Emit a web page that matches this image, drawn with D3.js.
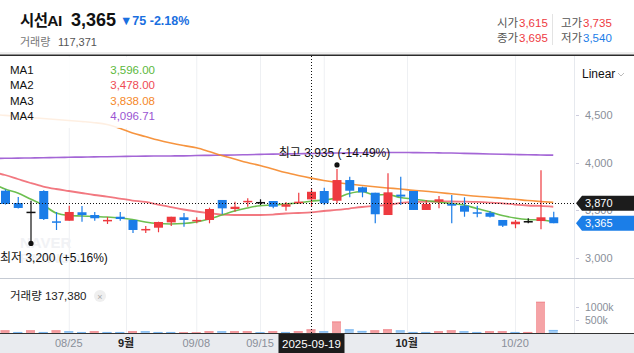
<!DOCTYPE html>
<html>
<head>
<meta charset="utf-8">
<script src="https://cdn.jsdelivr.net/npm/d3@7"></script>
<style>
  body { margin: 0; background: #fff; }
  svg { display: block; font-family: "Liberation Sans", "Noto Sans CJK KR", sans-serif; }
</style>
</head>
<body>
<svg width="634" height="353"></svg>
<script>
// first entry is the off-screen lead-in day, the rest are the visible candles
const dates = ['2025-08-14',
  '2025-08-18', '2025-08-19', '2025-08-20', '2025-08-21', '2025-08-22',
  '2025-08-25', '2025-08-26', '2025-08-27', '2025-08-28', '2025-08-29',
  '2025-09-01', '2025-09-02', '2025-09-03', '2025-09-04', '2025-09-05',
  '2025-09-08', '2025-09-09', '2025-09-10', '2025-09-11', '2025-09-12',
  '2025-09-15', '2025-09-16', '2025-09-17', '2025-09-18', '2025-09-19',
  '2025-09-22', '2025-09-23', '2025-09-24', '2025-09-25', '2025-09-26',
  '2025-09-29', '2025-09-30', '2025-10-01', '2025-10-02', '2025-10-10',
  '2025-10-13', '2025-10-14', '2025-10-15', '2025-10-16', '2025-10-17',
  '2025-10-20', '2025-10-21', '2025-10-22', '2025-10-23']

const open = [3740, 3706, 3577, 3486, 3703, 3385, 3391, 3480, 3451, 3395, 3433, 3399, 3300, 3318, 3374,
  3427, 3395, 3399, 3609, 3514, 3595, 3588, 3598, 3538, 3574, 3615, 3703, 3601, 3818, 3742,
  3685, 3451, 3665, 3703, 3504, 3591, 3567, 3549, 3480, 3475, 3399, 3354, 3388, 3388, 3427]
const high = [3780, 3720, 3640, 3600, 3710, 3483, 3549, 3546, 3483, 3430, 3483, 3399, 3336, 3381, 3433,
  3472, 3427, 3528, 3609, 3591, 3626, 3616, 3598, 3588, 3685, 3735, 3738, 3935, 3853, 3748,
  3685, 3889, 3853, 3703, 3609, 3651, 3661, 3637, 3549, 3493, 3399, 3399, 3417, 3920, 3486]
const low = [3690, 3560, 3520, 3200, 3400, 3294, 3391, 3381, 3391, 3357, 3391, 3262, 3262, 3270, 3336,
  3328, 3364, 3364, 3462, 3486, 3538, 3556, 3521, 3496, 3574, 3540, 3556, 3574, 3637, 3637,
  3364, 3451, 3556, 3504, 3504, 3521, 3364, 3433, 3427, 3425, 3325, 3312, 3364, 3301, 3365]
const close = [3720, 3567, 3525, 3486, 3409, 3378, 3483, 3451, 3417, 3400, 3409, 3294, 3305, 3378, 3433,
  3399, 3400, 3514, 3521, 3538, 3600, 3588, 3538, 3563, 3591, 3695, 3574, 3818, 3706, 3689,
  3459, 3689, 3645, 3504, 3567, 3616, 3549, 3486, 3475, 3433, 3339, 3381, 3388, 3427, 3365]

const volume = [90000, 100000, 40000, 100000, 40000, 100000, 65000, 40000, 65000, 40000, 40000, 65000, 65000, 40000, 40000,
  25000, 25000, 65000, 65000, 65000, 65000, 30000, 65000, 40000, 65000, 137380, 65000, 440000, 140000, 80000,
  100000, 140000, 100000, 40000, 40000, 65000, 100000, 65000, 40000, 65000, 65000, 40000, 40000, 1200000, 117371]
const volDir = ['d', 'u', 'd', 'u', 'd', 'u', 'd', 'd', 'u', 'd', 'd', 'u', 'd', 'd', 'd', 'u', 'u', 'u', 'd', 'u', 'u',
  'd', 'u', 'd', 'u', 'u', 'd', 'u', 'd', 'd', 'u', 'u', 'd', 'd', 'd', 'u', 'u', 'd', 'd', 'u', 'u', 'd', 'u', 'u', 'd']

const ma1 = [3787, 3724, 3682, 3619, 3556, 3472, 3446, 3441, 3435, 3430, 3420, 3404, 3378, 3362, 3357,
  3362, 3378, 3409, 3451, 3493, 3525, 3549, 3556, 3567, 3577, 3596, 3609, 3630, 3677, 3698,
  3661, 3666, 3635, 3619, 3601, 3588, 3572, 3556, 3519, 3486, 3446, 3420, 3404, 3399, 3381]
const ma2 = [3902, 3871, 3829, 3787, 3750, 3724, 3703, 3682, 3661, 3645, 3624, 3603, 3588, 3561, 3535,
  3509, 3488, 3472, 3456, 3451, 3451, 3451, 3456, 3467, 3472, 3478, 3493, 3504, 3519, 3535,
  3546, 3556, 3577, 3588, 3591, 3593, 3593, 3591, 3588, 3582, 3574, 3561, 3551, 3546, 3538]
const ma3 = [4506, 4497, 4485, 4474, 4464, 4453, 4443, 4432, 4420, 4401, 4361, 4312, 4275, 4238, 4207,
  4180, 4156, 4118, 4076, 4039, 4002, 3971, 3934, 3897, 3866, 3838, 3813, 3792, 3776, 3761,
  3747, 3735, 3724, 3711, 3701, 3687, 3674, 3661, 3648, 3638, 3627, 3616, 3603, 3593, 3584]
const ma4 = [4044, 4046, 4048, 4050, 4052, 4055, 4057, 4059, 4061, 4063, 4065, 4067, 4069, 4070, 4071,
  4072, 4075, 4077, 4079, 4081, 4084, 4087, 4090, 4092, 4094, 4097, 4099, 4101, 4103, 4105,
  4106, 4107, 4107, 4106, 4105, 4103, 4101, 4098, 4095, 4092, 4089, 4086, 4083, 4081, 4079]

const maNames = ['MA1', 'MA2', 'MA3', 'MA4']
const maLegend = ['3,596.00', '3,478.00', '3,838.08', '4,096.71']
const maColors = ['#5cb83c', '#ee4b55', '#f5882a', '#9a55d2']

const priceTicks = [4500, 4000, 3500, 3000]
const volTicks = [1000000, 500000]
// 09/22 sits under the crosshair date tag, so only its grid line shows
const xTicks = [
  { date: '2025-08-25', label: '08/25' },
  { date: '2025-09-08', label: '09/08' },
  { date: '2025-09-15', label: '09/15' },
  { date: '2025-09-22', label: null },
  { date: '2025-10-20', label: '10/20' }
]
const monthTicks = [
  { before: '2025-08-29', after: '2025-09-01', label: '9월' },
  { before: '2025-09-30', after: '2025-10-01', label: '10월' }
]

const crossDate = '2025-09-19'
const crossPrice = 3575
const crossLabel = '3,870'
const lastLabel = '3,365'

const red = '#ee3a3f'
const blue = '#1b7de8'

const svg = d3.select('svg')
const width = +svg.attr('width')
const height = +svg.attr('height')

const plot = { left: 0, right: 574, top: 56, bottom: 278 }
const volPane = { top: 278, bottom: 333 }

const x = d3.scalePoint()
  .domain(dates)
  .range([-14.125, 559.625])
  .padding(0.5)

const y = d3.scaleLinear()
  .domain([3000, 4500])
  .range([258, 115.05])

const yVol = d3.scaleLinear()
  .domain([0, 1000000])
  .range([volPane.bottom, volPane.bottom - 26])

const bodyW = 9

svg.append('defs').append('clipPath').attr('id', 'clip')
  .append('rect')
  .attr('x', plot.left).attr('y', plot.top)
  .attr('width', plot.right - plot.left).attr('height', volPane.bottom - plot.top)

// ---- header
const head = svg.append('g')
head.append('text').attr('x', 20).attr('y', 26)
  .attr('font-size', 15.5).attr('font-weight', 'bold').attr('fill', '#111')
  .attr('letter-spacing', -0.6)
  .text('시선AI')
head.append('text').attr('x', 71).attr('y', 26)
  .attr('font-size', 18).attr('font-weight', 'bold').attr('fill', '#111')
  .text('3,365')
head.append('text').attr('x', 120).attr('y', 25)
  .attr('font-size', 12.5).attr('font-weight', 'bold').attr('fill', '#1a6fe0')
  .text('▼75 -2.18%')
head.append('text').attr('x', 20).attr('y', 46)
  .attr('font-size', 11).attr('fill', '#777')
  .text('거래량')
head.append('text').attr('x', 58).attr('y', 46)
  .attr('font-size', 11).attr('fill', '#555')
  .text('117,371')

const quotes = [
  { label: '시가', value: '3,615', color: red, x: 497, y: 27 },
  { label: '고가', value: '3,735', color: red, x: 561, y: 27 },
  { label: '종가', value: '3,695', color: red, x: 497, y: 42 },
  { label: '저가', value: '3,540', color: blue, x: 561, y: 42 }
]
quotes.forEach(q => {
  head.append('text').attr('x', q.x).attr('y', q.y)
    .attr('font-size', 11.5).attr('fill', '#555').text(q.label)
  head.append('text').attr('x', q.x + 22).attr('y', q.y)
    .attr('font-size', 11.5).attr('fill', q.color).text(q.value)
})
head.append('line')
  .attr('x1', 552.5).attr('x2', 552.5).attr('y1', 14).attr('y2', 45)
  .attr('stroke', '#e3e3e3')

svg.append('rect').attr('x', 0).attr('y', 52).attr('width', width).attr('height', 2.5).attr('fill', '#eeeeee')
svg.append('rect').attr('x', 0).attr('y', 54.5).attr('width', width).attr('height', 1.5).attr('fill', '#2b2b2b')

// ---- grid
const grid = svg.append('g')
xTicks.forEach(t => {
  grid.append('line')
    .attr('x1', x(t.date) + 0.5).attr('x2', x(t.date) + 0.5)
    .attr('y1', plot.top).attr('y2', volPane.bottom)
    .attr('stroke', '#eef0f3')
})
monthTicks.forEach(t => {
  const mx = Math.round((x(t.before) + x(t.after)) / 2) + 0.5
  grid.append('line')
    .attr('x1', mx).attr('x2', mx)
    .attr('y1', plot.top).attr('y2', volPane.bottom)
    .attr('stroke', '#eef0f3')
})
grid.append('line')
  .attr('x1', plot.right + 0.5).attr('x2', plot.right + 0.5)
  .attr('y1', plot.top).attr('y2', volPane.bottom)
  .attr('stroke', '#e6e9ee')
grid.append('line')
  .attr('x1', 0).attr('x2', width)
  .attr('y1', volPane.top + 0.5).attr('y2', volPane.top + 0.5)
  .attr('stroke', '#c5cad3')

// watermark
svg.append('text').attr('x', 20).attr('y', 248)
  .attr('font-size', 15).attr('font-weight', 'bold').attr('fill', '#f1f2f5')
  .text('NAVER')
svg.append('text').attr('x', 20).attr('y', 263)
  .attr('font-size', 13).attr('font-weight', 'bold').attr('fill', '#f1f2f5')
  .text('FINANCIAL')

const chart = svg.append('g').attr('clip-path', 'url(#clip)')

// ---- volume
chart.selectAll('.vol').data(dates)
  .enter().append('rect')
  .attr('class', 'vol')
  .attr('x', d => x(d) - bodyW / 2)
  .attr('width', bodyW)
  .attr('y', (d, i) => yVol(volume[i]))
  .attr('height', (d, i) => volPane.bottom - yVol(volume[i]))
  .attr('fill', (d, i) => volDir[i] === 'u' ? '#f5a3a6' : '#a3cdf5')
chart.selectAll('.volTop').data(dates)
  .enter().append('rect')
  .attr('x', d => x(d) - bodyW / 2)
  .attr('width', bodyW)
  .attr('y', (d, i) => yVol(volume[i]))
  .attr('height', 1)
  .attr('fill', (d, i) => volDir[i] === 'u' ? '#f08a8f' : '#7db8f0')

// ---- moving averages
const maLine = d3.line()
  .x((d, i) => x(dates[i]))
  .y(d => y(d))
  .curve(d3.curveMonotoneX);

[ma4, ma3, ma2, ma1].forEach((series, k) => {
  const idx = 3 - k
  chart.append('path')
    .datum(series)
    .attr('d', maLine)
    .attr('fill', 'none')
    .attr('stroke', maColors[idx])
    .attr('stroke-width', idx === 1 ? 1.8 : 1.6)
    .attr('stroke-opacity', idx === 1 ? 0.75 : 0.9)
})

// ---- candles
const cg = chart.selectAll('.candle').data(dates)
  .enter().append('g')
  .attr('class', 'candle')
const candleColor = i => close[i] > open[i] ? red : close[i] < open[i] ? blue : '#111'

cg.append('line')
  .attr('x1', d => x(d) + 0.5).attr('x2', d => x(d) + 0.5)
  .attr('y1', (d, i) => y(high[i]))
  .attr('y2', (d, i) => y(low[i]))
  .attr('stroke', (d, i) => candleColor(i))
  .attr('stroke-width', 1.2)
cg.append('rect')
  .attr('x', d => x(d) - bodyW / 2 + 0.5)
  .attr('width', bodyW)
  .attr('y', (d, i) => y(Math.max(open[i], close[i])))
  .attr('height', (d, i) => Math.max(1.5, Math.abs(y(open[i]) - y(close[i]))))
  .attr('fill', (d, i) => candleColor(i))

// ---- high / low markers
const hiIdx = d3.maxIndex(high.slice(1)) + 1
const loIdx = d3.minIndex(low.slice(1)) + 1
const lastClose = close[close.length - 1]
const fmt = d3.format(',')
const pct = v => (v >= 0 ? '+' : '') + (v * 100).toFixed(2) + '%'

chart.append('circle')
  .attr('cx', x(dates[hiIdx]) + 0.5).attr('cy', y(high[hiIdx]) - 4)
  .attr('r', 2.6).attr('fill', '#111')
svg.append('text')
  .attr('x', x(dates[hiIdx]) - 2).attr('y', y(high[hiIdx]) - 12)
  .attr('text-anchor', 'middle')
  .attr('font-size', 12).attr('fill', '#111')
  .text(`최고 ${fmt(high[hiIdx])} (${pct(lastClose / high[hiIdx] - 1)})`)

chart.append('line')
  .attr('x1', x(dates[loIdx]) + 0.5).attr('x2', x(dates[loIdx]) + 0.5)
  .attr('y1', y(low[loIdx])).attr('y2', y(low[loIdx]) + 4)
  .attr('stroke', '#111').attr('stroke-width', 1.2)
chart.append('circle')
  .attr('cx', x(dates[loIdx]) + 0.5).attr('cy', y(low[loIdx]) + 4.5)
  .attr('r', 2.6).attr('fill', '#111')
svg.append('text')
  .attr('x', 0).attr('y', y(low[loIdx]) + 23)
  .attr('font-size', 12).attr('fill', '#111')
  .text(`최저 ${fmt(low[loIdx])} (${pct(lastClose / low[loIdx] - 1)})`)

// ---- legend
const legend = svg.append('g')
legend.append('rect')
  .attr('x', 0).attr('y', 57).attr('width', 168).attr('height', 71)
  .attr('fill', '#fff').attr('fill-opacity', 0.85)
maNames.forEach((name, i) => {
  legend.append('text').attr('x', 10).attr('y', 74 + i * 15.3)
    .attr('font-size', 11.5).attr('fill', '#111').text(name)
  legend.append('text').attr('x', 155).attr('y', 74 + i * 15.3)
    .attr('text-anchor', 'end')
    .attr('font-size', 11.5).attr('fill', maColors[i]).text(maLegend[i])
})

// ---- crosshair
const cx = Math.round(x(crossDate)) + 0.5
svg.append('line')
  .attr('x1', cx).attr('x2', cx)
  .attr('y1', plot.top).attr('y2', volPane.bottom)
  .attr('stroke', '#111').attr('stroke-dasharray', '1,2')
svg.append('line')
  .attr('x1', 0).attr('x2', plot.right)
  .attr('y1', Math.round(y(crossPrice)) + 0.5).attr('y2', Math.round(y(crossPrice)) + 0.5)
  .attr('stroke', '#111').attr('stroke-dasharray', '1,2')

// ---- volume label
svg.append('text').attr('x', 10).attr('y', 300)
  .attr('font-size', 11.5).attr('fill', '#222')
  .text('거래량 137,380')
svg.append('circle').attr('cx', 100).attr('cy', 296).attr('r', 6).attr('fill', '#efefef')
svg.append('text').attr('x', 100).attr('y', 299.5).attr('text-anchor', 'middle')
  .attr('font-size', 9).attr('fill', '#aaa').text('×')

// ---- right axes
const axisG = svg.append('g')
axisG.append('text').attr('x', 582).attr('y', 78)
  .attr('font-size', 12).attr('fill', '#111').text('Linear')
axisG.append('path').attr('d', 'M618,73 l3,3 l3,-3')
  .attr('fill', 'none').attr('stroke', '#bbb').attr('stroke-width', 1)

priceTicks.forEach(p => {
  axisG.append('line')
    .attr('x1', 576).attr('x2', 579)
    .attr('y1', Math.round(y(p)) + 0.5).attr('y2', Math.round(y(p)) + 0.5)
    .attr('stroke', '#ccd')
  axisG.append('text').attr('x', 585).attr('y', y(p) + 4)
    .attr('font-size', 11).attr('fill', '#8a8f99').text(fmt(p))
})
volTicks.forEach(v => {
  axisG.append('line')
    .attr('x1', 576).attr('x2', 579)
    .attr('y1', Math.round(yVol(v)) + 0.5).attr('y2', Math.round(yVol(v)) + 0.5)
    .attr('stroke', '#ccd')
  axisG.append('text').attr('x', 585).attr('y', yVol(v) + 4)
    .attr('font-size', 10.5).attr('fill', '#8a8f99').text(v / 1000 + 'k')
})

const tag = (value, text, fill) => {
  const ty = y(value)
  axisG.append('path')
    .attr('d', `M576,${ty} L582,${ty - 7.5} L634,${ty - 7.5} L634,${ty + 7.5} L582,${ty + 7.5} Z`)
    .attr('fill', fill)
  axisG.append('text').attr('x', 585).attr('y', ty + 4)
    .attr('font-size', 11).attr('fill', '#fff').text(text)
}
tag(crossPrice, crossLabel, '#1c1c1c')
tag(lastClose, lastLabel, '#1b7ee8')

// ---- x axis band
const xb = svg.append('g')
xb.append('rect').attr('x', 0).attr('y', volPane.bottom).attr('width', width).attr('height', height - volPane.bottom)
  .attr('fill', '#e9ebef')
xb.append('line').attr('x1', 0).attr('x2', width)
  .attr('y1', volPane.bottom + 0.5).attr('y2', volPane.bottom + 0.5)
  .attr('stroke', '#333')
xTicks.filter(t => t.label).forEach(t => {
  xb.append('text').attr('x', x(t.date)).attr('y', 347)
    .attr('text-anchor', 'middle')
    .attr('font-size', 11).attr('fill', '#8a8f99').text(t.label)
})
monthTicks.forEach(t => {
  xb.append('text').attr('x', (x(t.before) + x(t.after)) / 2).attr('y', 347)
    .attr('text-anchor', 'middle')
    .attr('font-size', 11).attr('font-weight', 'bold').attr('fill', '#222').text(t.label)
})
xb.append('rect').attr('x', cx - 33).attr('y', volPane.bottom + 1).attr('width', 66).attr('height', 20)
  .attr('fill', '#1c1c1c')
xb.append('text').attr('x', cx).attr('y', 347.5)
  .attr('text-anchor', 'middle')
  .attr('font-size', 11.5).attr('fill', '#fff').text(crossDate)
</script>
</body>
</html>
